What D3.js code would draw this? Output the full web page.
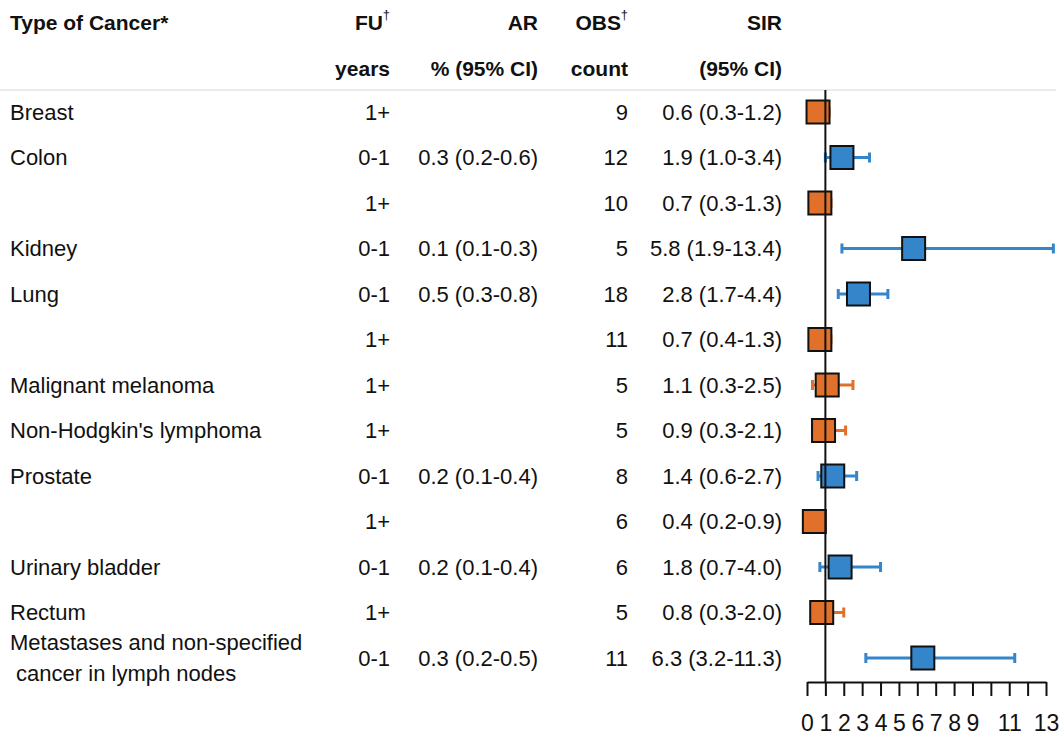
<!DOCTYPE html>
<html lang="en">
<head>
  <meta charset="UTF-8">
  <title>SIR by type of cancer</title>
  <script src="https://d3js.org/d3.v7.min.js"></script>
  <style>
    body {
      margin: 0;
      background: white;
      font-family: 'Liberation Sans', Arial, sans-serif;
    }
    .hdr { font-size: 21px; font-weight: bold; fill: #111; }
    .cell { font-size: 22px; fill: #111; }
  </style>
</head>
<body>
  <svg width="1061" height="736"></svg>

  <script>
    // chart data
    const cancers = ['Breast', 'Colon', '', 'Kidney', 'Lung', '', 'Malignant melanoma',
      "Non-Hodgkin's lymphoma", 'Prostate', '', 'Urinary bladder', 'Rectum',
      'Metastases and non-specified\n cancer in lymph nodes'];
    const fu = ['1+', '0-1', '1+', '0-1', '0-1', '1+', '1+', '1+', '0-1', '1+', '0-1', '1+', '0-1'];
    const ar = ['', '0.3 (0.2-0.6)', '', '0.1 (0.1-0.3)', '0.5 (0.3-0.8)', '', '', '',
      '0.2 (0.1-0.4)', '', '0.2 (0.1-0.4)', '', '0.3 (0.2-0.5)'];
    const obs = [9, 12, 10, 5, 18, 11, 5, 5, 8, 6, 6, 5, 11];
    const sir = [0.6, 1.9, 0.7, 5.8, 2.8, 0.7, 1.1, 0.9, 1.4, 0.4, 1.8, 0.8, 6.3];
    const sirLo = [0.3, 1.0, 0.3, 1.9, 1.7, 0.4, 0.3, 0.3, 0.6, 0.2, 0.7, 0.3, 3.2];
    const sirHi = [1.2, 3.4, 1.3, 13.4, 4.4, 1.3, 2.5, 2.1, 2.7, 0.9, 4.0, 2.0, 11.3];
    const tickValues = d3.range(0, 14);
    const tickLabels = ['0', '1', '2', '3', '4', '5', '6', '7', '8', '9', '', '11', '', '13'];

    const rows = cancers.map((c, i) => ({
      name: c, fu: fu[i], ar: ar[i], obs: obs[i],
      est: sir[i], lo: sirLo[i], hi: sirHi[i]
    }));

    const colour = { '0-1': '#3585cb', '1+': '#e0702a' };

    const svg = d3.select('svg');

    const y = d3.scalePoint()
      .domain(d3.range(rows.length))
      .range([112, 658]);

    const x = d3.scaleLinear()
      .domain([0, 13])
      .range([807, 1046]);

    const axisY = 682;

    // column headers
    const cols = [
      { x: 10, anchor: 'start', top: 'Type of Cancer*', bottom: '' },
      { x: 390, anchor: 'end', top: 'FU', sup: '\u2020', bottom: 'years' },
      { x: 538, anchor: 'end', top: 'AR', bottom: '% (95% CI)' },
      { x: 628, anchor: 'end', top: 'OBS', sup: '\u2020', bottom: 'count' },
      { x: 782, anchor: 'end', top: 'SIR', bottom: '(95% CI)' }
    ];

    cols.forEach(c => {
      svg.append('text')
        .attr('class', 'hdr')
        .attr('x', c.sup ? c.x - 7 : c.x)
        .attr('y', 30)
        .attr('text-anchor', c.anchor)
        .text(c.top);
      if (c.sup) {
        svg.append('text')
          .attr('class', 'hdr')
          .attr('x', c.x)
          .attr('y', 19)
          .attr('text-anchor', 'end')
          .style('font-size', '13px')
          .style('font-weight', 'normal')
          .text(c.sup);
      }
      svg.append('text')
        .attr('class', 'hdr')
        .attr('x', c.x)
        .attr('y', 76)
        .attr('text-anchor', c.anchor)
        .text(c.bottom);
    });

    svg.append('line')
      .attr('x1', 0).attr('x2', 1056)
      .attr('y1', 90).attr('y2', 90)
      .attr('stroke', '#e4e4e4')
      .attr('stroke-width', 1.5);

    // table cells
    const row = svg.selectAll('.row')
      .data(rows)
      .enter().append('g')
      .attr('class', 'row')
      .attr('transform', (d, i) => `translate(0,${y(i)})`);

    row.each(function(d) {
      let g = d3.select(this);
      let lines = d.name.split('\n');
      lines.forEach((ln, k) => {
        g.append('text')
          .attr('class', 'cell')
          .attr('x', 10)
          .attr('y', (k - (lines.length - 1) / 2) * 31)
          .attr('dy', '0.35em')
          .style('white-space', 'pre')
          .text(ln);
      });
    });

    row.append('text').attr('class', 'cell').attr('x', 390).attr('dy', '0.35em')
      .attr('text-anchor', 'end').text(d => d.fu);
    row.append('text').attr('class', 'cell').attr('x', 538).attr('dy', '0.35em')
      .attr('text-anchor', 'end').text(d => d.ar);
    row.append('text').attr('class', 'cell').attr('x', 628).attr('dy', '0.35em')
      .attr('text-anchor', 'end').text(d => d.obs);
    row.append('text').attr('class', 'cell').attr('x', 782).attr('dy', '0.35em')
      .attr('text-anchor', 'end')
      .text(d => `${d.est.toFixed(1)} (${d.lo.toFixed(1)}-${d.hi.toFixed(1)})`);

    // reference line at SIR = 1
    svg.append('line')
      .attr('x1', x(1)).attr('x2', x(1))
      .attr('y1', 90).attr('y2', axisY)
      .attr('stroke', '#111')
      .attr('stroke-width', 2);

    // error bars
    row.append('line')
      .attr('x1', d => x(d.lo)).attr('x2', d => x(d.hi))
      .attr('stroke', d => colour[d.fu])
      .attr('stroke-width', 3);
    row.selectAll('.cap')
      .data(d => [d.lo, d.hi].map(v => ({ v: v, fu: d.fu })))
      .enter().append('line')
      .attr('class', 'cap')
      .attr('x1', d => x(d.v)).attr('x2', d => x(d.v))
      .attr('y1', -5).attr('y2', 5)
      .attr('stroke', d => colour[d.fu])
      .attr('stroke-width', 3);

    // point estimates
    const sq = 23;
    row.append('rect')
      .attr('x', d => x(d.est) - sq / 2)
      .attr('y', -sq / 2)
      .attr('width', sq)
      .attr('height', sq)
      .attr('fill', d => colour[d.fu])
      .attr('stroke', '#111')
      .attr('stroke-width', 2);

    // x axis
    const axis = svg.append('g')
      .attr('transform', `translate(0,${axisY})`)
      .call(d3.axisBottom(x)
        .tickValues(tickValues)
        .tickSize(14)
        .tickSizeOuter(0)
        .tickFormat((d, i) => tickLabels[i]));

    axis.select('.domain').attr('stroke', '#111').attr('stroke-width', 2);
    axis.selectAll('.tick line').attr('stroke', '#111').attr('stroke-width', 2);
    axis.selectAll('.tick text')
      .attr('y', 33)
      .attr('fill', '#111')
      .style('font-family', "'Liberation Sans', Arial, sans-serif")
      .style('font-size', '23px');
  </script>
</body>
</html>
